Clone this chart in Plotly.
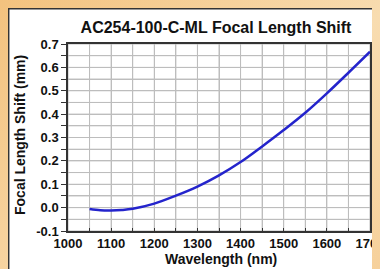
import plotly.graph_objects as go

wavelength_nm = [1050, 1075, 1100, 1125, 1150, 1200, 1250, 1300, 1350, 1400, 1450, 1500, 1550, 1600, 1650, 1700]
focal_shift_mm = [-0.006, -0.011, -0.012, -0.010, -0.005, 0.017, 0.051, 0.090, 0.138, 0.195, 0.262, 0.332, 0.406, 0.489, 0.577, 0.667]

x_ticks = [1000, 1050, 1100, 1150, 1200, 1250, 1300, 1350, 1400, 1450, 1500, 1550, 1600, 1650, 1700]
x_tick_labels = ["1000", "", "1100", "", "1200", "", "1300", "", "1400", "", "1500", "", "1600", "", "1700"]
y_ticks = [-0.1, -0.05, 0.0, 0.05, 0.1, 0.15, 0.2, 0.25, 0.3, 0.35, 0.4, 0.45, 0.5, 0.55, 0.6, 0.65, 0.7]
y_tick_labels = ["-0.1", "", "0.0", "", "0.1", "", "0.2", "", "0.3", "", "0.4", "", "0.5", "", "0.6", "", "0.7"]

# page has an 8px body margin; figure sits at (8, 8)
OFF = 8
W, H = 380 - OFF, 269 - OFF
L, R, T, B = 60, 10, 36, 38
pw = W - L - R
ph = H - T - B

def px_x(p):  # p in page pixels
    return (p - OFF - L) / pw

def px_y(p):
    return (H - B - (p - OFF)) / ph

fig = go.Figure()
fig.add_trace(go.Scatter(
    x=wavelength_nm, y=focal_shift_mm, mode="lines",
    line=dict(color="#2424cc", width=2.5, shape="spline"),
    hoverinfo="skip", showlegend=False,
))

font = "Liberation Sans, Arial, sans-serif"
grid_color = "#bdbdbd"

shapes = []
# grid lines at the tick positions (through the axis scales)
for xv in x_ticks:
    shapes.append(dict(type="line", xref="x", yref="paper", x0=xv, x1=xv, y0=0, y1=1,
                       line=dict(color=grid_color, width=1), layer="below"))
for yv in y_ticks:
    shapes.append(dict(type="line", xref="paper", yref="y", x0=0, x1=1, y0=yv, y1=yv,
                       line=dict(color=grid_color, width=1), layer="below"))
# dark panel border on the left and top
shapes += [
    dict(type="line", xref="paper", yref="paper", x0=px_x(8.7), x1=px_x(8.7), y0=px_y(290), y1=px_y(8),
         line=dict(color="#333", width=1.5), layer="above"),
    dict(type="line", xref="paper", yref="paper", x0=px_x(8), x1=px_x(400), y0=px_y(8.7), y1=px_y(8.7),
         line=dict(color="#333", width=1.5), layer="above"),
]

fig.update_layout(
    template="none",
    width=W, height=H,
    margin=dict(l=L, r=R, t=T, b=B),
    paper_bgcolor="white",
    plot_bgcolor="rgba(0,0,0,0)",
    title=dict(text="<b>AC254-100-C-ML Focal Length Shift</b>",
               x=(216 - OFF) / W, xanchor="center", y=1 - (27 - OFF) / H, yanchor="middle",
               font=dict(family=font, size=16, color="#111")),
    shapes=shapes,
    annotations=[
        dict(text="<b>Wavelength (nm)</b>", xref="paper", yref="paper",
             x=px_x(221), y=px_y(259), xanchor="center", yanchor="middle", showarrow=False,
             font=dict(family=font, size=14, color="#111")),
        dict(text="<b>Focal Length Shift (mm)</b>", xref="paper", yref="paper",
             x=px_x(20), y=px_y(135), xanchor="center", yanchor="middle", showarrow=False,
             textangle=-90, font=dict(family=font, size=14, color="#111")),
    ],
)

fig.update_xaxes(
    range=[1000, 1700], tickmode="array", tickvals=x_ticks, ticktext=x_tick_labels,
    showgrid=True, gridcolor=grid_color, gridwidth=1,
    ticks="inside", ticklen=3, tickcolor="#333",
    showline=True, linecolor="#333", linewidth=1.5, mirror=True,
    tickfont=dict(family=font, size=13, color="#111", weight="bold"),
    ticklabeloverflow="allow",
    automargin=False, zeroline=False,
)
fig.update_yaxes(
    range=[-0.1, 0.7], tickmode="array", tickvals=y_ticks, ticktext=y_tick_labels,
    showgrid=True, gridcolor=grid_color, gridwidth=1,
    ticks="outside", ticklen=5, tickcolor="#333",
    showline=True, linecolor="#333", linewidth=1.5, mirror=True,
    tickfont=dict(family=font, size=13, color="#111", weight="bold"),
    ticklabeloverflow="allow",
    automargin=False, zeroline=False,
)

body_bg = "linear-gradient(135deg, #f3c27e 0%, #f8dcb0 60%, #f6d09a 100%)"
fig.write_html(
    "out.html",
    post_script="document.body.style.background = '" + body_bg + "';",
)
